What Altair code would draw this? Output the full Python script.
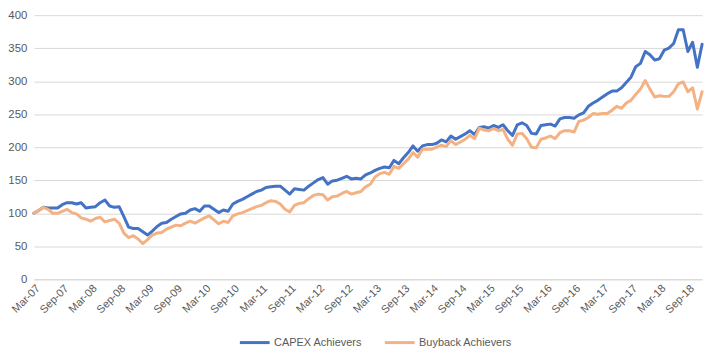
import altair as alt
import pandas as pd

months = [d.strftime("%b-%y") for d in pd.date_range("2007-03-01", "2018-12-01", freq="MS")]

capex = [
    100, 104, 109, 108, 108, 108, 113, 116, 116, 114,
    116, 108, 109, 110, 116, 120, 111, 109, 110, 95,
    79, 77, 77, 72, 67, 73, 80, 85, 86, 91,
    95, 99, 100, 105, 107, 103, 111, 111, 106, 101,
    105, 103, 114, 118, 121, 125, 129, 133, 135, 139,
    140, 141, 141, 135, 129, 137, 136, 135, 141, 146,
    151, 154, 144, 149, 150, 153, 156, 152, 153, 152,
    158, 161, 165, 168, 170, 169, 180, 175, 184, 192,
    202, 194, 202, 204, 204, 206, 211, 208, 217, 212,
    216, 220, 225, 219, 230, 231, 229, 233, 230, 234,
    225, 218, 234, 237, 233, 221, 220, 233, 234, 235,
    232, 243, 245, 245, 244, 249, 252, 262, 267, 271,
    276, 281, 285, 285, 290, 298, 306, 322, 327, 345,
    340, 332, 334, 347, 350, 357, 378, 378, 345, 359,
    321, 356,
]

buyback = [
    100, 104, 109, 106, 100, 100, 103, 106, 101, 99,
    93, 91, 88, 92, 94, 87, 89, 91, 85, 70,
    63, 66, 61, 54, 60, 67, 70, 71, 76, 79,
    82, 81, 85, 88, 85, 89, 93, 96, 90, 84,
    88, 86, 96, 99, 101, 104, 107, 110, 112, 116,
    119, 118, 114, 106, 102, 112, 115, 116, 122, 127,
    129, 128, 120, 125, 126, 130, 133, 129, 131, 133,
    140, 144, 155, 160, 162, 159, 171, 168, 175, 182,
    192, 185, 197, 197, 197, 200, 203, 201, 210, 204,
    208, 212, 218, 213, 229, 226, 225, 228, 225, 227,
    212, 203, 220, 221, 213, 200, 199, 212, 214, 217,
    213, 222, 225, 225, 223, 239, 241, 245, 251, 250,
    251, 251, 256, 262, 259, 267, 271, 280, 288, 301,
    288, 276, 278, 277, 277, 284, 296, 299, 284, 290,
    258, 284,
]

series_names = ["CAPEX Achievers", "Buyback Achievers"]
series_colors = ["#4472C4", "#F4B183"]
tick_labels = months[::6]

df = pd.DataFrame({"month": months, series_names[0]: capex, series_names[1]: buyback})
long = df.melt(id_vars="month", var_name="series", value_name="value")

FONT = "Liberation Sans"
GREY = "#595959"

chart = alt.Chart(long).mark_line(strokeWidth=3, strokeJoin="round", strokeCap="round").encode(
    x=alt.X("month:O", sort=months,
            scale=alt.Scale(type="point", padding=0),
            axis=alt.Axis(values=tick_labels, title=None, labelAngle=-45,
                          labelAlign="right", labelBaseline="top",
                          labelFontSize=11, labelColor=GREY, labelFont=FONT,
                          labelPadding=3, ticks=False, domainColor="#D9D9D9",
                          grid=False, labelOverlap=False)),
    y=alt.Y("value:Q", scale=alt.Scale(domain=[0, 400], nice=False),
            axis=alt.Axis(values=list(range(0, 401, 50)), title=None,
                          labelFontSize=11.5, labelColor=GREY, labelFont=FONT,
                          labelPadding=7, ticks=False, domain=False,
                          gridColor="#D9D9D9", gridWidth=1)),
    color=alt.Color("series:N", sort=series_names,
                    scale=alt.Scale(domain=series_names, range=series_colors),
                    legend=alt.Legend(title=None, orient="none", direction="horizontal",
                                      legendX=206, legendY=313,
                                      symbolType="stroke", symbolSize=900,
                                      symbolStrokeWidth=3, labelFontSize=11,
                                      labelFont=FONT, labelColor=GREY,
                                      columnPadding=16, labelOffset=3)),
    order=alt.Order("series:N", sort="descending"),
).properties(
    width=673, height=266,
    autosize=alt.AutoSizeParams(type="none"),
    padding={"left": 26, "top": 6, "right": 12, "bottom": 70},
).configure_view(stroke=None)

chart.save("out.html", embed_options={"renderer": "svg", "actions": False})
